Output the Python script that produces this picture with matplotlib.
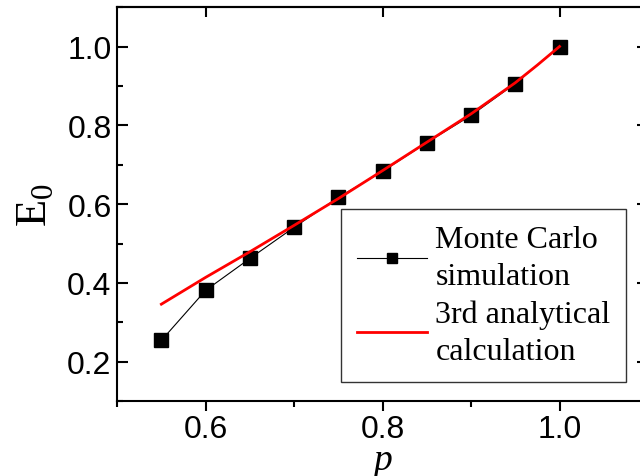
import matplotlib
matplotlib.use("Agg")
import matplotlib.pyplot as plt
from matplotlib.ticker import MultipleLocator

# Monte Carlo simulation points
p_mc = [0.55, 0.60, 0.65, 0.70, 0.75, 0.80, 0.85, 0.90, 0.95, 1.00]
e_mc = [0.254, 0.381, 0.462, 0.541, 0.617, 0.683, 0.756, 0.825, 0.906, 1.000]

# 3rd order analytical calculation
p_an = [0.55, 0.60, 0.65, 0.70, 0.75, 0.80, 0.85, 0.90, 0.95, 0.975, 1.00]
e_an = [0.346, 0.414, 0.479, 0.546, 0.614, 0.685, 0.757, 0.829, 0.908, 0.953, 1.000]

SERIF = ["Liberation Serif", "DejaVu Serif"]
SANS = ["Liberation Sans", "DejaVu Sans"]

fig = plt.figure(figsize=(6.4, 4.77), dpi=100)
ax = fig.add_axes([0.183, 0.157, 0.8295, 0.826])

ax.plot(p_mc, e_mc, color="black", lw=0.8, marker="s", ms=10,
        mec="black", mfc="black", label="Monte Carlo\nsimulation", zorder=3)
ax.plot(p_an, e_an, color="#ff0000", lw=2.0,
        label="3rd analytical\ncalculation", zorder=4)

ax.set_xlim(0.5, 1.1)
ax.set_ylim(0.1, 1.1)
ax.set_xticks([0.6, 0.8, 1.0])
ax.set_yticks([0.2, 0.4, 0.6, 0.8, 1.0])
ax.xaxis.set_minor_locator(MultipleLocator(0.1))
ax.yaxis.set_minor_locator(MultipleLocator(0.1))

for s in ax.spines.values():
    s.set_linewidth(1.5)

ax.tick_params(axis="x", which="both", direction="out", top=False, width=1.5)
ax.tick_params(axis="x", which="major", length=7)
ax.tick_params(axis="x", which="minor", length=4)
ax.tick_params(axis="y", which="both", direction="in", right=True, width=1.5)
ax.tick_params(axis="y", which="major", length=8)
ax.tick_params(axis="y", which="minor", length=4)
ax.tick_params(axis="x", labelsize=23, pad=2)
ax.tick_params(axis="y", labelsize=23, pad=4)
for lab in ax.get_xticklabels() + ax.get_yticklabels():
    lab.set_family(SANS)

# top spine ticks pointing inward, as in the original
tax = ax.secondary_xaxis("top")
tax.set_xticks([0.6, 0.8, 1.0])
tax.tick_params(direction="in", length=7, width=1.5, labeltop=False)
tax.spines["top"].set_linewidth(1.5)

ax.set_xlabel("p", fontsize=27, family=SERIF, style="italic")
ax.xaxis.set_label_coords(0.5, -0.105)
ax.set_ylabel(r"E$_\mathregular{0}$", fontsize=32, family=SERIF, labelpad=8)

leg = ax.legend(loc="upper left", bbox_to_anchor=(0.422, 0.487),
                prop={"family": SERIF, "size": 23}, frameon=True,
                fancybox=False, edgecolor="black", handlelength=2.2,
                handletextpad=0.25, borderpad=0.5, labelspacing=0.25,
                borderaxespad=0)
leg.get_frame().set_linewidth(1.0)
leg.legend_handles[0].set_markersize(7)
for t in leg.get_texts():
    t.set_linespacing(1.36)

fig.savefig("out.png", dpi=100)
